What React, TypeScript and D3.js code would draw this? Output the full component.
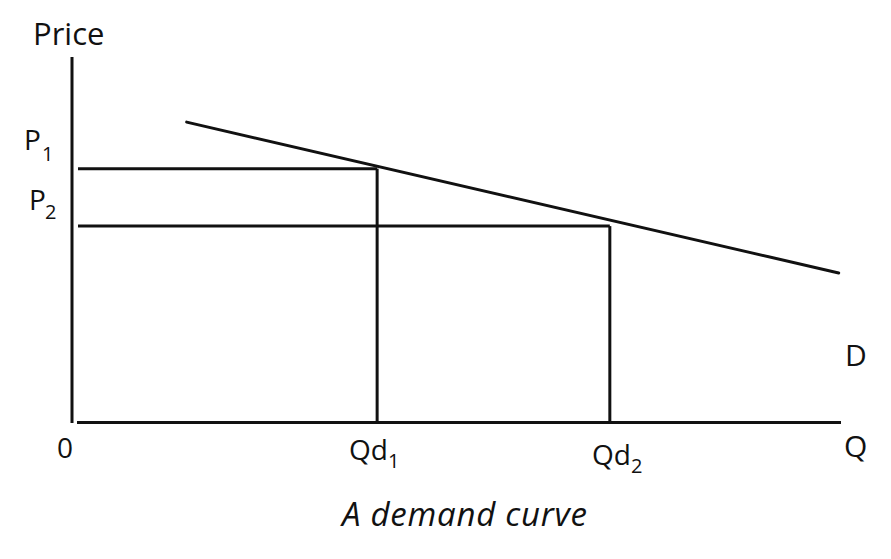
import React from "react";
import * as d3 from "d3";

const W = 891;
const H = 559;

// Data (in arbitrary 0-100 units)
const demandQ = [14.8, 99.7];
const demandP = [82.2, 41.0];
const priceLevels = [69.5, 53.8];
const quantityLevels = [39.6, 69.9];
const priceLabels = ["P", "P"];
const priceSubs = ["1", "2"];
const qtyLabels = ["Qd", "Qd"];
const qtySubs = ["1", "2"];

const FONT = "'Open Sans', sans-serif";
const INK = "#111";

export default function App() {
  const x = d3.scaleLinear().domain([0, 100]).range([73, 841]);
  const y = d3.scaleLinear().domain([0, 100]).range([423, 57]);
  const line = d3
    .line<[number, number]>()
    .x((d) => x(d[0]))
    .y((d) => y(d[1]));
  const demandPts: [number, number][] = demandQ.map((q, i) => [q, demandP[i]]);

  const priceLabelPos = [
    { px: 24, py: 150, sx: 42, sy: 161 },
    { px: 29, py: 210, sx: 45, sy: 219 },
  ];
  const qtyLabelPos = [
    { px: 349, py: 460, sx: 388, sy: 468 },
    { px: 592, py: 465, sx: 631, sy: 473 },
  ];

  return (
    <svg
      width={W}
      height={H}
      style={{ position: "absolute", left: 0, top: 0, background: "#fff" }}
    >
      <rect width={W} height={H} fill="#fff" />
      {/* axes */}
      <line x1={x(0) - 1} y1={y(100)} x2={x(0) - 1} y2={y(0)} stroke={INK} strokeWidth={3} />
      <line x1={x(0) + 4} y1={y(0) - 0.5} x2={x(100)} y2={y(0) - 0.5} stroke={INK} strokeWidth={3} />

      {/* price / quantity guide lines */}
      {priceLevels.map((p, i) => (
        <g key={i}>
          <line x1={x(0) + 5} y1={y(p)} x2={x(quantityLevels[i])} y2={y(p)} stroke={INK} strokeWidth={3} />
          <line x1={x(quantityLevels[i])} y1={y(p)} x2={x(quantityLevels[i])} y2={y(0)} stroke={INK} strokeWidth={3} />
        </g>
      ))}

      {/* demand curve */}
      <path d={line(demandPts) || ""} fill="none" stroke={INK} strokeWidth={3} strokeLinecap="round" />

      {/* labels */}
      <text x={33} y={45} fontFamily={FONT} fontSize={31} fill={INK}>Price</text>
      {priceLabels.map((l, i) => (
        <g key={"p" + i}>
          <text x={priceLabelPos[i].px} y={priceLabelPos[i].py} fontFamily={FONT} fontSize={28} fill={INK}>{l}</text>
          <text x={priceLabelPos[i].sx} y={priceLabelPos[i].sy} fontFamily={FONT} fontSize={20} fill={INK}>{priceSubs[i]}</text>
        </g>
      ))}
      {qtyLabels.map((l, i) => (
        <g key={"q" + i}>
          <text x={qtyLabelPos[i].px} y={qtyLabelPos[i].py} fontFamily={FONT} fontSize={28} fill={INK}>{l}</text>
          <text x={qtyLabelPos[i].sx} y={qtyLabelPos[i].sy} fontFamily={FONT} fontSize={20} fill={INK}>{qtySubs[i]}</text>
        </g>
      ))}
      <text x={57} y={458} fontFamily={FONT} fontSize={28} fill={INK}>0</text>
      <text x={844} y={457} fontFamily={FONT} fontSize={30} fill={INK}>Q</text>
      <text x={845} y={366} fontFamily={FONT} fontSize={30} fill={INK}>D</text>
      <text x={342} y={526} fontFamily={FONT} fontSize={33} fontStyle="italic" fill={INK} textLength={245} lengthAdjust="spacing">A demand curve</text>
    </svg>
  );
}
